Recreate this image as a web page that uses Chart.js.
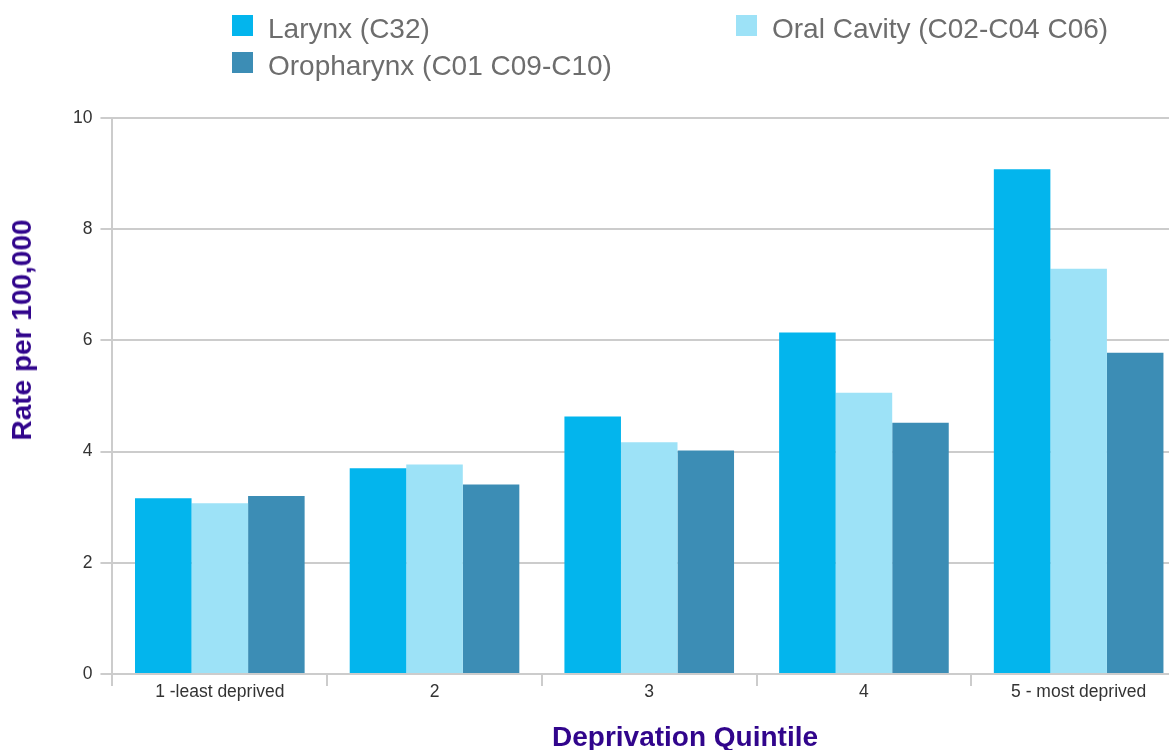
<!DOCTYPE html>
<html>
<head>
<meta charset="utf-8">
<script src="https://cdn.jsdelivr.net/npm/chart.js@4/dist/chart.umd.min.js"></script>
<style>
  body { margin: 0; overflow: hidden; background: #fff; font-family: "Liberation Sans", Arial, sans-serif; }
  #wrap { position: absolute; left: 0; top: 0; width: 1169px; height: 750px; overflow: hidden; }
  #rates { position: absolute; left: 0; top: 0; }
  .leg { position: absolute; height: 21px; display: flex; align-items: center; white-space: nowrap; }
  .leg span.box { display: inline-block; width: 21px; height: 21px; margin-right: 15px; }
  .leg span.txt { font-size: 28px; color: #6d6d6d; line-height: 21px; position: relative; top: 3px; }
  .axtitle { position: absolute; font-weight: bold; color: #31058c; white-space: nowrap; }
</style>
</head>
<body>
<div id="wrap">
  <canvas id="rates" width="1186" height="750"></canvas>
  <div id="legend"></div>
  <div class="axtitle" id="ytitle" style="font-size:28px; left:22px; top:330px; transform: translate(-50%,-50%) rotate(-90deg);">Rate per 100,000</div>
  <div class="axtitle" id="xtitle" style="font-size:28px; left:685px; top:737px; transform: translate(-50%,-50%);">Deprivation Quintile</div>
</div>
<script>
var quintiles = ["1 -least deprived", "2", "3", "4", "5 - most deprived"];
var larynx = [3.16, 3.70, 4.63, 6.14, 9.08];
var oralCavity = [3.07, 3.77, 4.17, 5.06, 7.29];
var oropharynx = [3.20, 3.41, 4.02, 4.52, 5.78];
var yTicks = [0, 2, 4, 6, 8, 10];

var seriesNames = ["Larynx (C32)", "Oral Cavity (C02-C04 C06)", "Oropharynx (C01 C09-C10)"];
var seriesColors = ["#03b5ed", "#9de2f7", "#3c8db5"];

// legend slots (two columns, like the original)
var legendSpots = [
  { left: 232, top: 15 },
  { left: 736, top: 15 },
  { left: 232, top: 52 }
];
var legendBox = document.getElementById("legend");
seriesNames.forEach(function (name, i) {
  var item = document.createElement("div");
  item.className = "leg";
  item.style.left = legendSpots[i].left + "px";
  item.style.top = legendSpots[i].top + "px";
  item.innerHTML = '<span class="box" style="background:' + seriesColors[i] + '"></span><span class="txt"></span>';
  item.querySelector(".txt").textContent = name;
  legendBox.appendChild(item);
});

var ctx = document.getElementById("rates").getContext("2d");
var myChart = new Chart(ctx, {
  type: "bar",
  data: {
    labels: quintiles,
    datasets: [
      { label: seriesNames[0], data: larynx, backgroundColor: seriesColors[0], borderWidth: 0 },
      { label: seriesNames[1], data: oralCavity, backgroundColor: seriesColors[1], borderWidth: 0 },
      { label: seriesNames[2], data: oropharynx, backgroundColor: seriesColors[2], borderWidth: 0 }
    ]
  },
  options: {
    responsive: false,
    animation: false,
    devicePixelRatio: 1,
    categoryPercentage: 0.79,
    barPercentage: 1.0,
    layout: { padding: { top: 118, left: 65, right: 0, bottom: 42 } },
    plugins: {
      legend: { display: false },
      tooltip: { enabled: false }
    },
    scales: {
      x: {
        grid: { drawOnChartArea: false, color: "#cccccc", lineWidth: 2, tickLength: 12, offset: true },
        border: { color: "#cccccc", width: 2 },
        ticks: { color: "#333333", font: { family: "Liberation Sans", size: 17.5 }, padding: -4, maxRotation: 0 },
        // make the axis box tall enough that label descenders are not clipped
        afterFit: function (axis) { axis.height = 34; }
      },
      y: {
        min: 0,
        max: 10,
        afterBuildTicks: function (axis) {
          axis.ticks = yTicks.map(function (v) { return { value: v }; });
        },
        grid: { color: "#cccccc", lineWidth: 2, tickLength: 12 },
        border: { color: "#cccccc", width: 2 },
        ticks: { color: "#333333", font: { family: "Liberation Sans", size: 17.5 }, padding: 8 }
      }
    }
  }
});
</script>
</body>
</html>
